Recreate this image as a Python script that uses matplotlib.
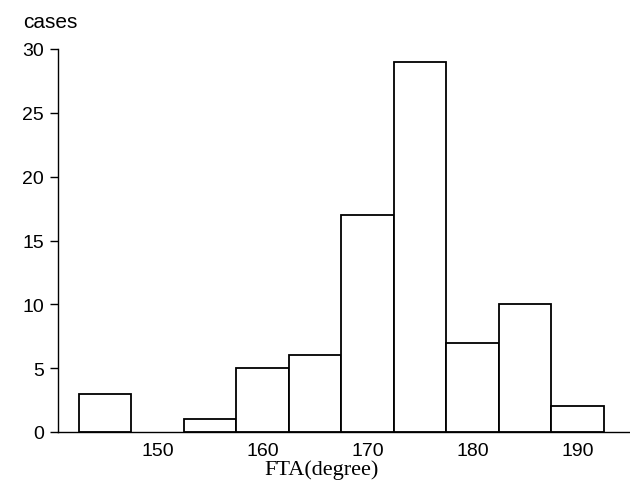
import matplotlib
matplotlib.use("Agg")
import matplotlib.pyplot as plt
import numpy as np

bin_edges = [142.5, 147.5, 152.5, 157.5, 162.5, 167.5, 172.5, 177.5, 182.5, 187.5, 192.5]
counts = [3, 0, 1, 5, 6, 17, 29, 7, 10, 2]
xticks = [150, 160, 170, 180, 190]
yticks = [0, 5, 10, 15, 20, 25, 30]

plt.rcParams['font.family'] = ['Liberation Sans', 'DejaVu Sans']

fig = plt.figure(figsize=(6.3, 4.81), dpi=100)
ax = fig.add_axes([58/630, 1-433/481, 1-58/630, (433-50)/481])

lefts = np.array(bin_edges[:-1])
widths = np.diff(bin_edges)
for l, w, c in zip(lefts, widths, counts):
    if c > 0:
        ax.bar(l, c, width=w, align='edge', facecolor='white', edgecolor='black', linewidth=1.3)

ax.set_xlim(140.5, 195)
ax.set_ylim(0, 30)
ax.set_xticks(xticks)
ax.set_xticklabels([str(t) for t in xticks], fontsize=14)
ax.set_yticks(yticks)
ax.set_yticklabels([str(t) for t in yticks], fontsize=14)
ax.tick_params(axis='x', length=0, pad=7)
ax.tick_params(axis='y', length=6, width=1, pad=4)
ax.spines['top'].set_visible(False)
ax.spines['right'].set_visible(False)
ax.spines['left'].set_linewidth(1)
ax.spines['bottom'].set_linewidth(1)

fig.text(23/630, 1-23/481, 'cases', fontsize=15, ha='left', va='center')
fig.text(322/630, 1-475/481, 'FTA(degree)', fontsize=16, ha='center', va='baseline',
         family=['Liberation Serif', 'DejaVu Serif'])

fig.savefig('out.png', dpi=100)
